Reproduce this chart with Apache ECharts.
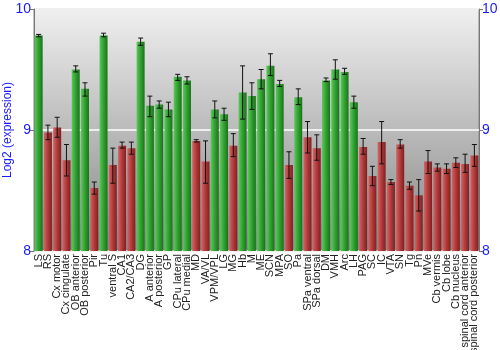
<!DOCTYPE html>
<html><head><meta charset="utf-8">
<script src="https://cdn.jsdelivr.net/npm/echarts@6/dist/echarts.min.js"></script>
<style>html,body{margin:0;padding:0;background:#fff}#c{width:500px;height:350px}</style>
</head><body><div id="c"></div>
<script>
const categories = ["LS","RS","Cx motor","Cx cingulate","OB anterior","OB posterior","Pir","Tu","ventral S","CA1","CA2/CA3","DG","A anterior","A posterior","GP","CPu lateral","CPu medial","MD","VA/VL","VPM/VPL","LG","MG","Hb","M","ME","SCN","MPA","SO","Pa","SPa ventral","SPa dorsal","DM","VMH","Arc","LH","PAG","SC","IC","VTA","SN","Tg","Pn","MVe","Cb vermis","Cb lobe","Cb nucleus","spinal cord anterior","spinal cord posterior"];
const values = [9.78,8.98,9.02,8.75,9.50,9.34,8.52,9.78,8.71,8.87,8.85,9.73,9.20,9.21,9.17,9.44,9.41,8.91,8.74,9.17,9.13,8.87,9.31,9.28,9.42,9.53,9.38,8.71,9.27,8.94,8.85,9.41,9.50,9.48,9.23,8.86,8.62,8.90,8.57,8.88,8.54,8.46,8.74,8.69,8.68,8.73,8.72,8.79];
const errLow = [9.77,8.92,8.94,8.62,9.48,9.28,8.47,9.77,8.56,8.85,8.80,9.70,9.11,9.18,9.11,9.41,9.38,8.90,8.56,9.10,9.08,8.78,9.09,9.17,9.34,9.45,9.36,8.60,9.21,8.81,8.75,9.40,9.42,9.46,9.18,8.80,8.54,8.72,8.55,8.85,8.51,8.33,8.64,8.66,8.64,8.69,8.65,8.70];
const errHigh = [9.79,9.04,9.105,8.88,9.53,9.39,8.57,9.80,8.85,8.90,8.90,9.76,9.28,9.24,9.23,9.46,9.44,8.92,8.91,9.24,9.18,8.97,9.53,9.39,9.50,9.63,9.41,8.82,9.34,9.07,8.96,9.43,9.58,9.51,9.28,8.93,8.70,9.07,8.59,8.92,8.57,8.59,8.83,8.72,8.72,8.77,8.80,8.88];
const groups = ["G","R","R","R","G","G","R","G","R","R","R","G","G","G","G","G","G","R","R","G","G","R","G","G","G","G","G","R","G","R","R","G","G","G","G","R","R","R","R","R","R","R","R","R","R","R","R","R"];
const yTicks = [8, 9, 10];

const greenGrad = new echarts.graphic.LinearGradient(0,0,1,0,[{offset:0,color:'#5cc85c'},{offset:0.45,color:'#33a533'},{offset:1,color:'#1b721b'}]);
const redGrad = new echarts.graphic.LinearGradient(0,0,1,0,[{offset:0,color:'#d46464'},{offset:0.45,color:'#b53d3d'},{offset:1,color:'#7e2020'}]);

const chart = echarts.init(document.getElementById('c'), null, {renderer:'canvas'});
const barData = values.map((v,i)=>({value:v, itemStyle:{color: groups[i]==='G'?greenGrad:redGrad}}));
const errData = categories.map((c,i)=>[i, errLow[i], errHigh[i]]);

const yCommon = {
  type:'value', min:yTicks[0], max:yTicks[yTicks.length-1], interval:1,
  axisLine:{show:true, lineStyle:{color:'#777'}},
  axisTick:{show:true, length:4, lineStyle:{color:'#777'}},
  axisLabel:{color:'#1a1aff', fontSize:14, fontFamily:'Liberation Sans, Arial', margin:3}
};

chart.setOption({
  animation:false,
  grid:{left:34, right:21, top:9, bottom:99, show:true, borderColor:'#888', borderWidth:1,
    containLabel:false, outerBoundsMode:'none',
    backgroundColor:new echarts.graphic.LinearGradient(0,0,0,1,[{offset:0,color:'#f0f0f0'},{offset:1,color:'#858585'}])},
  xAxis:{type:'category', data:categories,
    axisLine:{show:false}, axisTick:{show:false},
    axisLabel:{interval:0, rotate:90, fontSize:11, color:'#222', fontFamily:'Liberation Sans, Arial', margin:3}},
  yAxis:[
    Object.assign({}, yCommon, {position:'left', name:'Log2 (expression)', nameLocation:'middle', nameGap:20,
      nameMoveOverlap:false,
      nameTextStyle:{color:'#1a1aff', fontSize:12, fontFamily:'Liberation Sans, Arial'},
      splitLine:{show:true, lineStyle:{color:'#ffffff', width:1.5}}}),
    Object.assign({}, yCommon, {position:'right', splitLine:{show:false}})
  ],
  series:[
    {type:'bar', data:barData, barWidth:8, yAxisIndex:0},
    {type:'custom', yAxisIndex:0, data:errData, z:10,
      renderItem:function(params, api){
        const x = api.value(0);
        const lo = api.coord([x, api.value(1)]);
        const hi = api.coord([x, api.value(2)]);
        const hw = 2.5;
        const st = {stroke:'#111', lineWidth:1};
        return {type:'group', children:[
          {type:'line', shape:{x1:lo[0], y1:lo[1], x2:hi[0], y2:hi[1]}, style:st},
          {type:'line', shape:{x1:lo[0]-hw, y1:lo[1], x2:lo[0]+hw, y2:lo[1]}, style:st},
          {type:'line', shape:{x1:hi[0]-hw, y1:hi[1], x2:hi[0]+hw, y2:hi[1]}, style:st}
        ]};
      }}
  ]
});
</script></body></html>
